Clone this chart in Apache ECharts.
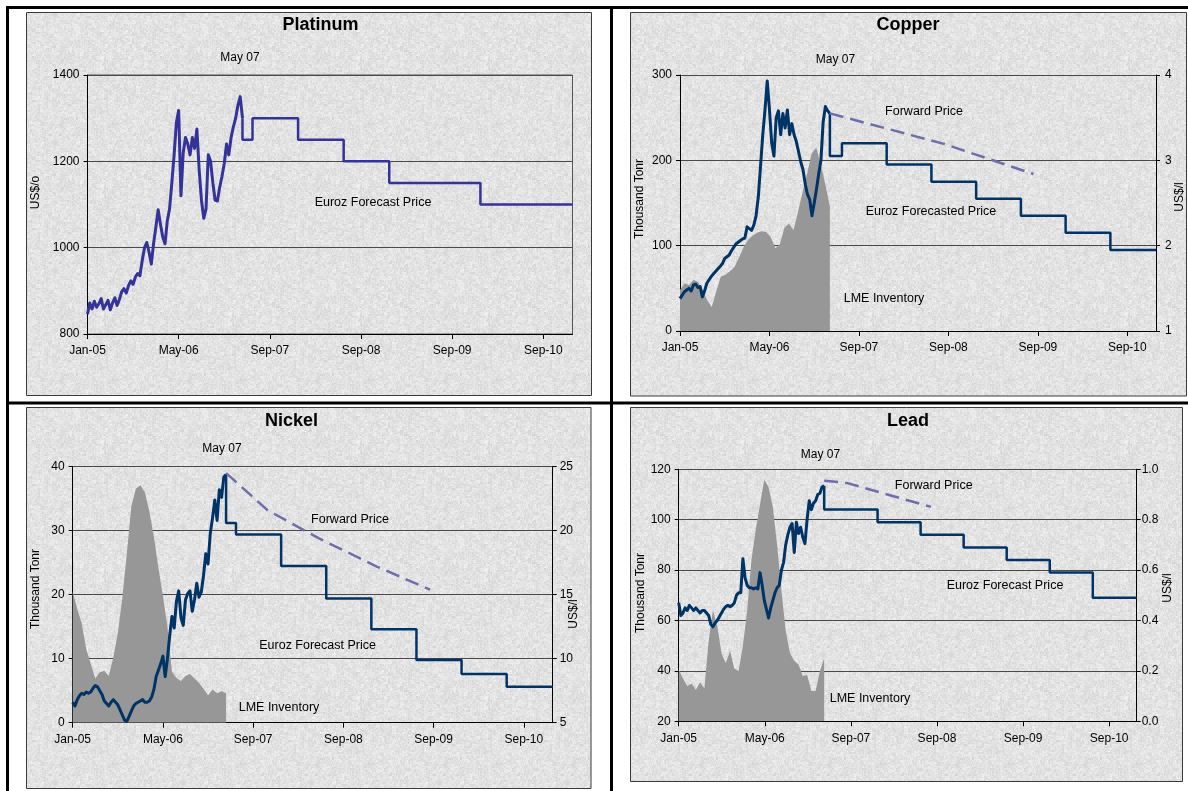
<!DOCTYPE html>
<html>
<head>
<meta charset="utf-8">
<script src="https://cdn.jsdelivr.net/npm/echarts@6/dist/echarts.min.js"></script>
<style>
  html, body { margin: 0; padding: 0; background: #ffffff; }
  #chart { width: 1188px; height: 791px; }
</style>
</head>
<body>
<div id="chart"></div>
<script>
// ---- Period axis: one unit between each labelled tick ----
const periodLabels = ['Jan-05', 'May-06', 'Sep-07', 'Sep-08', 'Sep-09', 'Sep-10'];
const periodAxisEnd = 5.32;
// Ends of the half-year forecast periods on the period axis
const forecastPeriodEnds = [1.81, 2.31, 2.81, 3.31, 3.81, 4.31, 4.81, 5.32];

// ---- Platinum (US$/oz) ----
const platinumHistoryEnd = 1.70;
const platinumPrice = [
  846, 872, 858, 876, 862, 870, 882, 858, 868, 878,
  856, 872, 884, 866, 880, 898, 905, 895, 912, 923,
  915, 932, 940, 935, 970, 1000, 1012, 990, 962, 1010,
  1048, 1088, 1055, 1025, 1009, 1062, 1090, 1150, 1215, 1290,
  1318, 1120, 1220, 1255, 1240, 1215, 1255, 1230, 1275, 1180,
  1110, 1068, 1090, 1215, 1200, 1150, 1110, 1108, 1140, 1165,
  1195, 1240, 1215, 1255, 1280, 1300, 1330, 1350, 1300
];
const platinumForecast = [1250, 1300, 1250, 1200, 1150, 1150, 1100, 1100];

// ---- Copper (US$/lb, LME stocks in thousand tonnes) ----
const copperHistoryEnd = 1.675;
const copperPrice = [
  1.38, 1.42, 1.46, 1.48, 1.50, 1.47, 1.54, 1.55, 1.51, 1.52,
  1.40, 1.47, 1.56, 1.60, 1.64, 1.67, 1.70, 1.73, 1.76, 1.79,
  1.85, 1.87, 1.89, 1.94, 1.98, 2.02, 2.04, 2.06, 2.08, 2.09,
  2.22, 2.20, 2.18, 2.24, 2.35, 2.57, 2.93, 3.30, 3.59, 3.93,
  3.59, 3.20, 3.05, 3.50, 3.58, 3.30, 3.55, 3.38, 3.59, 3.30,
  3.43, 3.30, 3.22, 3.10, 2.98, 2.89, 2.72, 2.60, 2.54, 2.35,
  2.50, 2.66, 2.84, 3.00, 3.45, 3.63, 3.58, 3.55
];
const copperInventory = [
  48, 56, 54, 60, 57, 48, 36, 28, 47, 64,
  66, 70, 75, 86, 98, 107, 112, 115, 117, 116,
  110, 97, 102, 121, 126, 118, 140, 163, 185, 208,
  215, 195, 172, 146
];
const copperForecast = [3.05, 3.20, 2.95, 2.75, 2.55, 2.35, 2.15, 1.95];
const copperForward = [[1.675, 3.55], [2.96, 3.19], [3.95, 2.84]];

// ---- Nickel (US$/lb, LME stocks in thousand tonnes) ----
const nickelHistoryEnd = 1.70;
const nickelPrice = [
  6.6, 6.3, 6.8, 7.1, 7.3, 7.2, 7.4, 7.3, 7.4, 7.7,
  7.9, 7.8, 7.5, 7.2, 6.7, 6.5, 6.3, 6.6, 6.8, 6.6,
  6.4, 6.0, 5.6, 5.2, 5.1, 5.5, 5.9, 6.3, 6.5, 6.6,
  6.7, 6.8, 6.6, 6.6, 6.7, 7.0, 7.6, 8.6, 9.1, 9.6,
  10.2, 8.6, 10.0, 11.8, 13.3, 12.4, 14.5, 15.3, 13.2, 12.6,
  14.6, 15.1, 15.3, 13.7, 14.6, 15.9, 14.8, 15.2, 16.5, 18.2,
  17.4, 19.8, 21.0, 22.4, 20.8, 23.2, 22.6, 24.2, 24.4
];
const nickelInventory = [
  20.5, 17.8, 15.5, 11.5, 9.2, 6.9, 7.9, 8.1, 7.3, 10.2,
  14.0, 19.5, 26.5, 33.8, 36.6, 37.1, 36.0, 33.0, 29.0, 24.2,
  19.8, 15.0, 8.0, 7.0, 6.5, 7.3, 7.6, 6.9, 6.2, 5.3,
  4.3, 5.2, 4.6, 4.9, 4.6
];
const nickelForecast = [20.6, 19.7, 17.25, 14.7, 12.3, 9.9, 8.8, 7.8];
const nickelForward = [[1.70, 24.5], [2.16, 21.6], [2.73, 19.4], [3.37, 17.2], [3.96, 15.4]];

// ---- Lead (US$/lb, LME stocks in thousand tonnes) ----
const leadHistoryEnd = 1.69;
const leadPrice = [
  0.47, 0.42, 0.43, 0.45, 0.44, 0.46, 0.45, 0.44, 0.45, 0.44,
  0.43, 0.44, 0.44, 0.43, 0.42, 0.385, 0.375, 0.39, 0.40, 0.415,
  0.43, 0.445, 0.455, 0.46, 0.455, 0.46, 0.47, 0.50, 0.51, 0.51,
  0.645, 0.57, 0.54, 0.53, 0.53, 0.525, 0.53, 0.525, 0.59, 0.54,
  0.48, 0.445, 0.41, 0.45, 0.48, 0.51, 0.53, 0.54, 0.60, 0.63,
  0.70, 0.74, 0.77, 0.785, 0.67, 0.79, 0.745, 0.77, 0.73, 0.705,
  0.80, 0.875, 0.84, 0.865, 0.875, 0.90, 0.905, 0.93, 0.935
];
const leadInventory = [
  40.5, 37, 34, 35, 32.5, 35.5, 33, 52, 64, 58,
  47, 43, 48, 41, 40, 50, 64, 84, 96, 106,
  116, 113, 105, 90, 72, 56, 47, 44, 42.5, 38,
  38.5, 32, 32, 40, 45
];
const leadForecast = [0.84, 0.84, 0.79, 0.74, 0.69, 0.64, 0.59, 0.49];
const leadForward = [[1.69, 0.955], [1.95, 0.946], [2.93, 0.851]];

// ---- Helpers ----
const FONT = '"Liberation Sans", Arial, Helvetica, sans-serif';
const PURPLE = '#333399';
const NAVY = '#003366';
const FORWARD = '#6e6eac';
const STOCK_GREY = '#979797';

function historyPoints(values, end) {
  const step = end / (values.length - 1);
  return values.map((v, i) => [i * step, v]);
}
function forecastPoints(values, history, end) {
  return [[end, history[history.length - 1]]]
    .concat(values.map((v, i) => [forecastPeriodEnds[i], v]));
}

// Granite-like paper texture used behind each chart panel
function makeGrain(size) {
  const c = document.createElement('canvas');
  c.width = c.height = size;
  const ctx = c.getContext('2d');
  const img = ctx.createImageData(size, size);
  const h = (x, y, s) => {
    let n = Math.imul(x, 374761393) + Math.imul(y, 668265263) + Math.imul(s, 1442695041);
    n = Math.imul(n ^ (n >>> 13), 1274126177);
    n ^= n >>> 16;
    return (n >>> 0) / 4294967296;
  };
  for (let y = 0; y < size; y++) {
    for (let x = 0; x < size; x++) {
      const v = 226 + (h(x, y, 1) - 0.5) * 16 + (h(x >> 1, y >> 1, 2) - 0.5) * 14 + (h(x >> 2, y >> 2, 3) - 0.5) * 8;
      const i = (y * size + x) * 4;
      img.data[i] = img.data[i + 1] = img.data[i + 2] = Math.max(0, Math.min(255, v));
      img.data[i + 3] = 255;
    }
  }
  ctx.putImageData(img, 0, 0);
  return c;
}
const grain = makeGrain(128);

// ---- Layout of the four panels ----
const grids = [
  { left: 87.5, top: 75, width: 485, height: 259, show: true, borderColor: '#555', borderWidth: 1, backgroundColor: 'transparent' },
  { left: 680, top: 75, width: 476, height: 256 },
  { left: 72.7, top: 466.7, width: 480, height: 256 },
  { left: 678.7, top: 469.3, width: 458, height: 252 }
];

const tickValues = periodLabels.map((_, i) => i);
const plainNumber = v => String(v);

function xAxisFor(gridIndex) {
  return {
    type: 'value', gridIndex, min: 0, max: periodAxisEnd, interval: 1,
    splitLine: { show: false },
    axisLine: { onZero: false, lineStyle: { color: '#000', width: 1 } },
    axisTick: { length: 5, lineStyle: { color: '#000' }, customValues: tickValues },
    axisLabel: {
      customValues: tickValues, formatter: v => periodLabels[Math.round(v)] || '',
      margin: 11, fontSize: 12, color: '#000', fontFamily: FONT
    }
  };
}
function leftAxis(gridIndex, min, max, interval) {
  return {
    type: 'value', gridIndex, position: 'left', min, max, interval,
    axisLine: { show: true, onZero: false, lineStyle: { color: '#000', width: 1 } },
    axisTick: { show: true, length: 4, lineStyle: { color: '#000' } },
    axisLabel: { margin: 8, fontSize: 12, color: '#000', fontFamily: FONT, formatter: plainNumber },
    splitLine: { show: true, lineStyle: { color: '#4a4a4a', width: 1 } }
  };
}
function rightAxis(gridIndex, min, max, interval, margin, formatter) {
  return {
    type: 'value', gridIndex, position: 'right', min, max, interval,
    axisLine: { show: true, onZero: false, lineStyle: { color: '#000', width: 1 } },
    axisTick: { show: true, length: 4, lineStyle: { color: '#000' } },
    axisLabel: { margin, fontSize: 12, color: '#000', fontFamily: FONT, formatter: formatter || plainNumber },
    splitLine: { show: false }
  };
}

const xAxes = [xAxisFor(0), xAxisFor(1), xAxisFor(2), xAxisFor(3)];
const yAxes = [
  leftAxis(0, 800, 1400, 200),                        // 0 platinum
  leftAxis(1, 0, 300, 100),                           // 1 copper stocks
  rightAxis(1, 1, 4, 1, 9),                           // 2 copper price
  leftAxis(2, 0, 40, 10),                             // 3 nickel stocks
  rightAxis(2, 5, 25, 5, 7),                          // 4 nickel price
  leftAxis(3, 20, 120, 20),                           // 5 lead stocks
  rightAxis(3, 0, 1, 0.2, 5, v => v.toFixed(1))       // 6 lead price
];

function inventorySeries(x, y, values, end) {
  return {
    type: 'line', xAxisIndex: x, yAxisIndex: y, data: historyPoints(values, end),
    showSymbol: false, silent: true, z: 1,
    lineStyle: { width: 0, color: STOCK_GREY },
    areaStyle: { color: STOCK_GREY, opacity: 1, origin: 'start' }
  };
}
function priceSeries(x, y, values, end, color) {
  return {
    type: 'line', xAxisIndex: x, yAxisIndex: y, data: historyPoints(values, end),
    showSymbol: false, silent: true, z: 3,
    lineStyle: { width: 3, color, join: 'round' }
  };
}
function forecastSeries(x, y, values, history, end, color) {
  return {
    type: 'line', xAxisIndex: x, yAxisIndex: y, step: 'start',
    data: forecastPoints(values, history, end),
    showSymbol: false, silent: true, z: 3,
    lineStyle: { width: 2.5, color }
  };
}
function forwardSeries(x, y, points) {
  return {
    type: 'line', xAxisIndex: x, yAxisIndex: y, data: points,
    showSymbol: false, silent: true, z: 4,
    lineStyle: { width: 2.5, color: FORWARD, type: [14, 7] }
  };
}

const series = [
  priceSeries(0, 0, platinumPrice, platinumHistoryEnd, PURPLE),
  forecastSeries(0, 0, platinumForecast, platinumPrice, platinumHistoryEnd, PURPLE),

  inventorySeries(1, 1, copperInventory, copperHistoryEnd),
  priceSeries(1, 2, copperPrice, copperHistoryEnd, NAVY),
  forecastSeries(1, 2, copperForecast, copperPrice, copperHistoryEnd, NAVY),
  forwardSeries(1, 2, copperForward),

  inventorySeries(2, 3, nickelInventory, nickelHistoryEnd),
  priceSeries(2, 4, nickelPrice, nickelHistoryEnd, NAVY),
  forecastSeries(2, 4, nickelForecast, nickelPrice, nickelHistoryEnd, NAVY),
  forwardSeries(2, 4, nickelForward),

  inventorySeries(3, 5, leadInventory, leadHistoryEnd),
  priceSeries(3, 6, leadPrice, leadHistoryEnd, NAVY),
  forecastSeries(3, 6, leadForecast, leadPrice, leadHistoryEnd, NAVY),
  forwardSeries(3, 6, leadForward)
];

// ---- Page furniture: frame, panel boxes and text ----
function panelBox(x, y, w, h) {
  return {
    type: 'rect', z: -20, silent: true,
    shape: { x, y, width: w, height: h },
    style: { fill: { image: grain, repeat: 'repeat' }, stroke: '#3a3a3a', lineWidth: 1 }
  };
}
function bar(x, y, w, h) {
  return { type: 'rect', z: 50, silent: true, shape: { x, y, width: w, height: h }, style: { fill: '#000' } };
}
function label(text, x, y, size, weight) {
  return {
    type: 'text', z: 20, silent: true, x, y,
    style: {
      text, x: 0, y: 0, align: 'center', verticalAlign: 'middle',
      fill: '#000', fontSize: size, fontWeight: weight || 'normal', fontFamily: FONT
    }
  };
}
function sideLabel(text, x, y) {
  const el = label(text, x, y, 12);
  el.rotation = Math.PI / 2;
  return el;
}

const graphics = [
  panelBox(26.5, 12.5, 565, 383),
  panelBox(630.5, 12.5, 556, 383.5),
  panelBox(26.5, 407.5, 564.5, 381),
  panelBox(630.5, 407.5, 552, 374),

  bar(6, 6, 1182, 3),
  bar(6, 6, 3, 785),
  bar(610, 6, 3, 785),
  bar(6, 401.5, 1182, 3),

  label('Platinum', 320.5, 25, 18, 'bold'),
  label('Copper', 908, 25, 18, 'bold'),
  label('Nickel', 291.6, 420.7, 18, 'bold'),
  label('Lead', 908, 420.7, 18, 'bold'),

  label('May 07', 240, 57.7, 12),
  label('May 07', 835.5, 60, 12),
  label('May 07', 222, 448.7, 12),
  label('May 07', 820.5, 454.3, 12),

  label('Euroz Forecast Price', 373, 202.3, 12.5),

  label('Forward Price', 924, 111.7, 12.5),
  label('Euroz Forecasted Price', 931, 211.7, 12.5),
  label('LME Inventory', 884, 299, 12.5),

  label('Forward Price', 350, 519.3, 12.5),
  label('Euroz Forecast Price', 317.6, 645.7, 12.5),
  label('LME Inventory', 279, 707.3, 12.5),

  label('Forward Price', 933.7, 485.7, 12.5),
  label('Euroz Forecast Price', 1005, 585.7, 12.5),
  label('LME Inventory', 870, 699, 12.5),

  sideLabel('US$/o', 36, 192.5),
  sideLabel('Thousand Tonr', 639.5, 199),
  sideLabel('US$/l', 1180, 197),
  sideLabel('Thousand Tonr', 35.5, 589),
  sideLabel('US$/l', 574, 614),
  sideLabel('Thousand Tonr', 641, 593),
  sideLabel('US$/l', 1167.5, 588)
];

const chart = echarts.init(document.getElementById('chart'), null, { renderer: 'canvas' });
chart.setOption({
  animation: false,
  backgroundColor: '#ffffff',
  textStyle: { fontFamily: FONT },
  grid: grids,
  xAxis: xAxes,
  yAxis: yAxes,
  series,
  graphic: { elements: graphics }
});
</script>
</body>
</html>
